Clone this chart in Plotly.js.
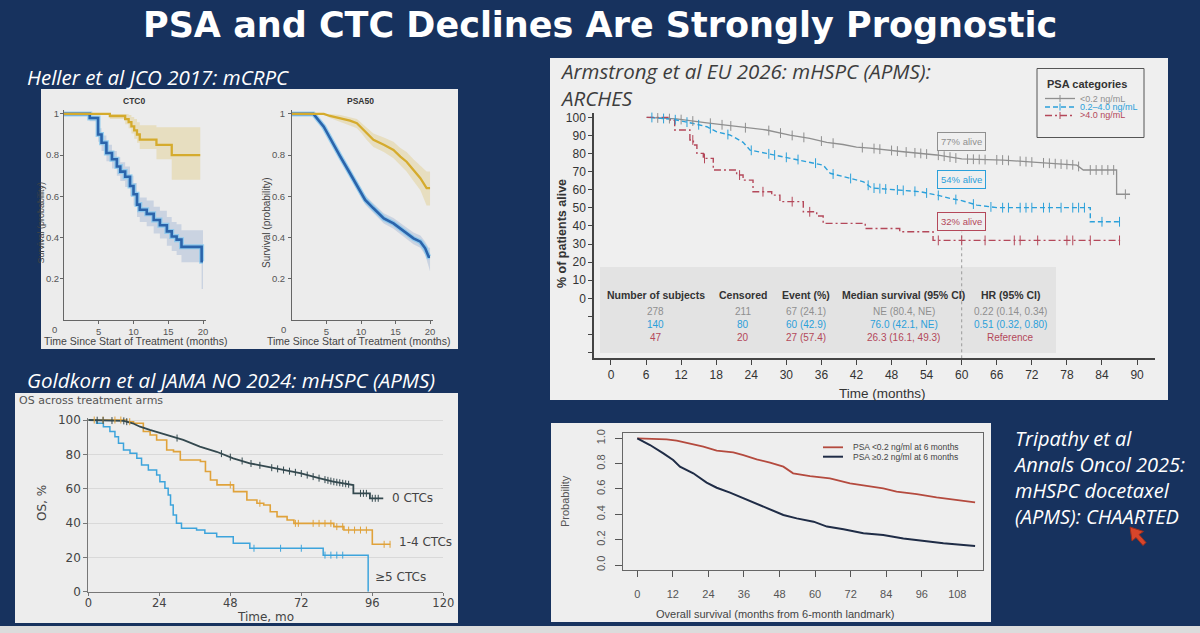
<!DOCTYPE html>
<html>
<head>
<meta charset="utf-8">
<script src="https://cdn.plot.ly/plotly-3.0.1.min.js"></script>
<style>
  html, body { margin: 0; padding: 0; background: #17325e; overflow: hidden; }
  #chart { width: 1200px; height: 633px; }
</style>
</head>
<body>
<div id="chart"></div>
<script>
// ---------------- Heller et al JCO 2017 (mCRPC) ----------------
// CTC0 panel: months since start of treatment vs survival probability
const ctc0FavT  = [0, 6.6, 8.8, 9.3, 9.7, 10.1, 10.5, 10.9, 13.3, 15.5, 19.6];
const ctc0FavS  = [1.0, 0.99, 0.975, 0.96, 0.94, 0.92, 0.90, 0.875, 0.85, 0.80, 0.80];
const ctc0FavHi = [1.0, 1.0, 1.0, 0.995, 0.985, 0.975, 0.96, 0.945, 0.935, 0.935, 0.935];
const ctc0FavLo = [1.0, 0.975, 0.95, 0.93, 0.905, 0.88, 0.86, 0.83, 0.78, 0.68, 0.68];

const ctc0PosT  = [0, 3.3, 3.7, 4.9, 5.4, 6.1, 6.9, 7.6, 8.1, 8.8, 9.5, 10.0, 10.5, 10.9, 11.9, 12.9, 13.8, 14.8, 15.5, 16.2, 16.9, 19.8, 20.0];
const ctc0PosS  = [1, 1, 0.98, 0.90, 0.86, 0.81, 0.78, 0.745, 0.72, 0.695, 0.65, 0.61, 0.56, 0.535, 0.515, 0.485, 0.46, 0.43, 0.405, 0.39, 0.355, 0.285, 0.285];
const ctc0PosHi = [1, 1, 0.99, 0.93, 0.895, 0.85, 0.82, 0.79, 0.765, 0.745, 0.70, 0.665, 0.615, 0.595, 0.58, 0.55, 0.53, 0.50, 0.475, 0.465, 0.435, 0.435, 0.43];
const ctc0PosLo = [1, 1, 0.965, 0.865, 0.82, 0.77, 0.735, 0.70, 0.675, 0.645, 0.60, 0.555, 0.50, 0.475, 0.455, 0.42, 0.395, 0.36, 0.335, 0.315, 0.28, 0.15, 0.15];

// PSA50 panel
const psa50FavT  = [0, 4.6, 5.5, 7.0, 8.4, 9.4, 10.1, 10.8, 11.8, 13.3, 14.7, 15.7, 16.6, 17.6, 18.6, 19.5, 20.0];
const psa50FavS  = [1, 1, 0.99, 0.98, 0.967, 0.955, 0.93, 0.906, 0.874, 0.85, 0.825, 0.793, 0.768, 0.728, 0.688, 0.64, 0.64];
const psa50FavHi = [1, 1, 1, 0.995, 0.985, 0.975, 0.955, 0.935, 0.905, 0.885, 0.865, 0.835, 0.815, 0.78, 0.75, 0.72, 0.72];
const psa50FavLo = [1, 1, 0.98, 0.96, 0.945, 0.93, 0.905, 0.875, 0.84, 0.815, 0.785, 0.75, 0.72, 0.675, 0.63, 0.555, 0.555];

const psa50PosT  = [0, 3.1, 4.6, 6.0, 7.0, 8.4, 9.4, 10.6, 11.8, 13.3, 14.7, 15.7, 16.6, 17.6, 18.6, 19.3, 19.8, 20.0];
const psa50PosS  = [1, 1, 0.938, 0.85, 0.793, 0.712, 0.655, 0.583, 0.542, 0.493, 0.469, 0.445, 0.42, 0.396, 0.38, 0.348, 0.307, 0.307];
const psa50PosHi = [1, 1, 0.95, 0.865, 0.81, 0.73, 0.675, 0.605, 0.565, 0.518, 0.495, 0.472, 0.448, 0.425, 0.41, 0.38, 0.35, 0.35];
const psa50PosLo = [1, 1, 0.925, 0.835, 0.776, 0.694, 0.635, 0.561, 0.519, 0.468, 0.443, 0.418, 0.392, 0.367, 0.35, 0.315, 0.26, 0.235];

const hellerTicks = [5, 10, 15, 20];
const hellerProbTicks = [0.2, 0.4, 0.6, 0.8, 1];
const hellerProbLabels = ['0.2', '0.4', '0.6', '0.8', '1'];

// ---------------- Goldkorn et al JAMA NO 2024 (OS by CTC count) ----------------
const zeroCtcT = [0, 12, 15, 17.5, 20.8, 26.5, 32.1, 37.7, 43.4, 49, 54.6, 60.3, 65.9, 71.6, 78.3, 82.8, 89.6, 89.6, 95.2, 95.2, 99.7];
const zeroCtcS = [100, 99.5, 98.1, 96.1, 94.2, 91.3, 88.4, 84.5, 81.5, 77.7, 74.8, 72.8, 70.9, 69, 66, 64.1, 62.1, 57.3, 57.3, 54.4, 54.4];
const zeroCtcCens = [3, 5, 8, 12, 13, 30, 45, 48, 52, 55, 58, 62, 64, 66, 68, 70, 72, 74, 76, 78, 80, 81, 82, 83, 84, 85, 86, 87, 88, 92, 93, 94, 96, 97, 98];

const lowCtcT = [0, 13, 15.3, 18.6, 20.9, 23.1, 26.5, 28.8, 31.1, 37.9, 39.6, 41.3, 43.5, 49.1, 53.6, 57, 59.3, 61.5, 63.8, 67.2, 69.5, 83, 86.4, 96, 102.1];
const lowCtcS = [100, 99, 98.1, 93.3, 91.3, 88.4, 82.5, 81.6, 76.7, 75.8, 70, 65.1, 62.2, 58.3, 53.4, 51.5, 50.5, 46.6, 43.7, 41.8, 39.8, 37.9, 35.9, 27.6, 27.6];
const lowCtcCens = [2, 5, 9, 11, 14, 48, 58, 70, 71, 76, 78, 80, 82, 84, 86, 88, 90, 92, 94, 100, 102];

const highCtcT = [0, 2.8, 5.1, 7.3, 9, 10.2, 11.9, 14.1, 16.4, 18, 20.3, 23.1, 24.2, 25.9, 27, 27.8, 28.7, 29.8, 31.5, 36.6, 39.4, 43.4, 49, 54.6, 79.4, 94.6];
const highCtcS = [100, 98.1, 96.1, 93.3, 90.3, 86.4, 82.5, 80.6, 77.7, 73.8, 70.9, 68, 64.1, 60.2, 56.3, 50.5, 44.7, 39.8, 36.9, 35.9, 34, 32, 28.2, 25.3, 21.3, 0];
const highCtcCens = [56, 65, 72, 80, 82, 84, 86];

const osTicks = [0, 24, 48, 72, 96, 120];
const osPctTicks = [0, 20, 40, 60, 80, 100];
const ctcGroupLabels = ['0 CTCs', '1-4 CTCs', '≥5 CTCs'];

// ---------------- Armstrong et al: ARCHES, PSA categories ----------------
const psaLowT = [6.1, 11.2, 16.4, 21.5, 26.6, 30.6, 34, 36.9, 39.7, 42, 44.3, 50, 55.7, 60, 67.1, 72.8, 79.7, 80.8, 86.5, 86.5, 88.8];
const psaLowS = [100, 99.1, 97, 94.8, 93, 90.2, 88.4, 86.2, 85, 83.5, 83, 81, 79.2, 77, 76.4, 75.1, 73.6, 70.9, 70.9, 57.5, 57.5];
const psaLowCens = [8, 10, 12, 14, 17, 19, 20.5, 23, 27, 29, 31, 33, 36, 38, 43, 45, 46, 48, 49, 50.5, 52, 53, 54, 56, 57, 58, 59, 61, 62, 63, 64, 66, 67, 68, 70, 71, 72, 74, 75, 76, 77, 78, 79, 80, 82, 83, 84, 85, 86, 88];

const psaMidT = [6.7, 10.7, 14.1, 16.4, 18.1, 20.4, 22.6, 23.8, 26.6, 29.5, 34, 36.3, 37.5, 40.9, 43.2, 44.6, 52.9, 55.7, 58, 60, 62.6, 66, 82, 82, 87.1];
const psaMidS = [100, 98.9, 96.6, 94.8, 92, 90.2, 86.2, 81.9, 80.1, 78.2, 75.5, 73.6, 69.1, 66.3, 64.4, 61, 58.9, 57.1, 55.2, 54, 51.5, 50.1, 50.1, 42.3, 42.3];
const psaMidCens = [7, 9, 11, 13, 15, 17, 20, 24, 27, 28, 30, 32, 35, 38, 41, 44, 45, 46, 47, 49, 50, 52, 54, 56, 59, 62, 65, 67, 68, 70, 71, 72, 74, 75, 77, 79, 80, 81, 84, 87];

const psaHighT = [6.1, 10.1, 10.9, 13.5, 14.1, 14.7, 15.8, 17.5, 21.5, 22.6, 24.3, 27.5, 28.9, 32.9, 35.2, 36.3, 43.5, 49.4, 55.1, 87.1];
const psaHighS = [100, 98.3, 93, 87.5, 84.7, 80.1, 77.3, 70.9, 68.1, 65.3, 58.9, 57, 53.4, 47.8, 45.5, 41.4, 38.6, 36.8, 32, 32];
const psaHighCens = [14, 16, 22, 26, 31, 34, 56, 60, 64, 69, 70, 73, 78, 79, 82, 87];

const psaCategoryNames = ['<0.2 ng/mL', '0.2–4.0 ng/mL', '>4.0 ng/mL'];
const aliveAt60 = [77, 54, 32];
const archesMonthTicks = [0, 6, 12, 18, 24, 30, 36, 42, 48, 54, 60, 66, 72, 78, 84, 90];
const archesPctTicks = [-30, -20, -10, 0, 10, 20, 30, 40, 50, 60, 70, 80, 90, 100];

const tableHeaders = ['Number of subjects', 'Censored', 'Event (%)', 'Median survival (95% CI)', 'HR (95% CI)'];
const tableRows = [
  ['278', '211', '67 (24.1)', 'NE (80.4, NE)', '0.22 (0.14, 0.34)'],
  ['140', '80', '60 (42.9)', '76.0 (42.1, NE)', '0.51 (0.32, 0.80)'],
  ['47', '20', '27 (57.4)', '26.3 (16.1, 49.3)', 'Reference']
];

// ---------------- Tripathy et al: CHAARTED, 6-month PSA landmark ----------------
const chLowT = [0, 9.9, 13.3, 17.8, 22.3, 26.8, 32.4, 35.8, 40.3, 44.8, 49.3, 52.6, 58.3, 65, 71.8, 77.4, 83, 87.5, 94.3, 101, 107.8, 114];
const chLowS = [1.0, 0.992, 0.981, 0.96, 0.934, 0.902, 0.889, 0.868, 0.834, 0.808, 0.776, 0.724, 0.702, 0.684, 0.645, 0.624, 0.605, 0.579, 0.56, 0.534, 0.513, 0.495];
const chHighT = [0, 4.3, 8.8, 12.1, 14.4, 18.9, 23.4, 26.8, 31.3, 35.8, 40.3, 44.8, 49.3, 53.8, 59.5, 64, 69.6, 76.3, 83, 89.8, 96.5, 103.3, 114];
const chHighS = [1.0, 0.947, 0.881, 0.829, 0.776, 0.724, 0.65, 0.61, 0.571, 0.526, 0.487, 0.439, 0.395, 0.368, 0.342, 0.303, 0.282, 0.25, 0.237, 0.21, 0.192, 0.171, 0.15];
const chNames = ['PSA <0.2 ng/ml at 6 months', 'PSA ≥0.2 ng/ml at 6 months'];
const chMonthTicks = [0, 12, 24, 36, 48, 60, 72, 84, 96, 108];
const chProbTicks = [0, 0.2, 0.4, 0.6, 0.8, 1.0];

// ---------------- helpers ----------------
const W = 1200, H = 633;
const px = x => x / W;
const py = y => 1 - y / H;

const SANS = 'Liberation Sans, Arial, sans-serif';
const NARROW = 'Liberation Sans Narrow, Liberation Sans, Arial, sans-serif';
const DEJAVU = 'DejaVu Sans, Verdana, sans-serif';
const OPEN = 'Open Sans, Noto Sans, sans-serif';

const NAVY = '#17325e';
const GRAY_C = '#8f8f8f', BLUE_C = '#2ba0da', RED_C = '#b4485a';

function stepAt(T, S, t) { let v = S[0]; for (let i = 0; i < T.length; i++) if (T[i] <= t) v = S[i]; return v; }
function linAt(T, S, t) {
  for (let i = 1; i < T.length; i++) {
    if (t <= T[i]) { const a = T[i - 1], b = T[i]; if (b === a) return S[i]; return S[i - 1] + (S[i] - S[i - 1]) * (t - a) / (b - a); }
  }
  return S[S.length - 1];
}

const traces = [];
function band(T, lo, hi, shape, color, xa, ya) {
  traces.push({ x: T, y: lo, xaxis: xa, yaxis: ya, mode: 'lines', line: { width: 0, shape }, hoverinfo: 'skip', showlegend: false });
  traces.push({ x: T, y: hi, xaxis: xa, yaxis: ya, mode: 'lines', line: { width: 0, shape }, fill: 'tonexty', fillcolor: color, hoverinfo: 'skip', showlegend: false });
}
function curve(T, S, shape, color, width, xa, ya, dash) {
  traces.push({ x: T, y: S, xaxis: xa, yaxis: ya, mode: 'lines', line: { color, width, shape, dash: dash || 'solid' }, hoverinfo: 'skip', showlegend: false });
}
function censor(times, T, S, lookup, color, size, xa, ya) {
  traces.push({ x: times, y: times.map(t => lookup(T, S, t)), xaxis: xa, yaxis: ya, mode: 'markers',
    marker: { symbol: 'line-ns', size, color, line: { color, width: 1 } }, hoverinfo: 'skip', showlegend: false, cliponaxis: false });
}

// Heller CTC0 (x / y)
band(ctc0FavT, ctc0FavLo, ctc0FavHi, 'hv', 'rgba(224,200,120,0.38)', 'x', 'y');
band(ctc0PosT, ctc0PosLo, ctc0PosHi, 'hv', 'rgba(140,165,205,0.35)', 'x', 'y');
curve(ctc0PosT, ctc0PosS, 'hv', 'rgba(120,195,240,0.7)', 5, 'x', 'y');
curve(ctc0PosT, ctc0PosS, 'hv', '#2b64ab', 2.6, 'x', 'y');
curve(ctc0FavT, ctc0FavS, 'hv', '#d5ab2d', 2.3, 'x', 'y');

// Heller PSA50 (x2 / y2)
band(psa50FavT, psa50FavLo, psa50FavHi, 'linear', 'rgba(224,200,120,0.38)', 'x2', 'y2');
band(psa50PosT, psa50PosLo, psa50PosHi, 'linear', 'rgba(140,165,205,0.35)', 'x2', 'y2');
curve(psa50PosT, psa50PosS, 'linear', 'rgba(120,195,240,0.7)', 5, 'x2', 'y2');
curve(psa50PosT, psa50PosS, 'linear', '#2b64ab', 2.6, 'x2', 'y2');
curve(psa50FavT, psa50FavS, 'linear', '#d5ab2d', 2.3, 'x2', 'y2');

// Goldkorn (x3 / y3)
curve(highCtcT, highCtcS, 'hv', '#3da4dc', 1.5, 'x3', 'y3');
curve(lowCtcT, lowCtcS, 'hv', '#e0a23a', 1.6, 'x3', 'y3');
curve(zeroCtcT, zeroCtcS, 'linear', '#34494f', 1.8, 'x3', 'y3');
censor(highCtcCens, highCtcT, highCtcS, stepAt, '#3da4dc', 5, 'x3', 'y3');
censor(lowCtcCens, lowCtcT, lowCtcS, stepAt, '#e0a23a', 5, 'x3', 'y3');
censor(zeroCtcCens, zeroCtcT, zeroCtcS, linAt, '#34494f', 5, 'x3', 'y3');

// Armstrong / ARCHES (x4 / y4)
curve(psaLowT, psaLowS, 'linear', GRAY_C, 1.3, 'x4', 'y4');
curve(psaMidT, psaMidS, 'linear', BLUE_C, 1.4, 'x4', 'y4', '5px,3px');
curve(psaHighT, psaHighS, 'hv', RED_C, 1.4, 'x4', 'y4', '7px,3px,2px,3px');
censor(psaLowCens, psaLowT, psaLowS, linAt, GRAY_C, 7, 'x4', 'y4');
censor(psaMidCens, psaMidT, psaMidS, linAt, BLUE_C, 7, 'x4', 'y4');
censor(psaHighCens, psaHighT, psaHighS, stepAt, RED_C, 7, 'x4', 'y4');

// Tripathy / CHAARTED (x5 / y5)
curve(chLowT, chLowS, 'linear', '#b44a3e', 1.8, 'x5', 'y5');
curve(chHighT, chHighS, 'linear', '#1f2c46', 2.0, 'x5', 'y5');

// ---------------- axes ----------------
function baseAxis(o) {
  return Object.assign({ showgrid: false, zeroline: false, showline: true, ticks: 'outside', fixedrange: true, automargin: false }, o);
}
const hellerTickFont = { family: SANS, size: 9.5, color: '#555' };
const layout = {
  width: W, height: H,
  margin: { l: 0, r: 0, t: 0, b: 0 },
  paper_bgcolor: NAVY, plot_bgcolor: 'rgba(0,0,0,0)',
  showlegend: false,
  xaxis: baseAxis({ domain: [px(64), px(205.8)], range: [0, 20.4], anchor: 'y', tickvals: hellerTicks, tickfont: hellerTickFont, ticklen: 3, tickcolor: '#666', linecolor: '#666', linewidth: 1 }),
  yaxis: baseAxis({ domain: [py(320), py(110)], range: [0, 1.019], anchor: 'x', tickvals: hellerProbTicks, ticktext: hellerProbLabels, tickfont: hellerTickFont, ticklen: 3, tickcolor: '#666', linecolor: '#666', linewidth: 1, ticklabelstandoff: -1 }),
  xaxis2: baseAxis({ domain: [px(292), px(432.8)], range: [0, 20.4], anchor: 'y2', tickvals: hellerTicks, tickfont: hellerTickFont, ticklen: 3, tickcolor: '#666', linecolor: '#666', linewidth: 1 }),
  yaxis2: baseAxis({ domain: [py(320), py(110)], range: [0, 1.019], anchor: 'x2', tickvals: hellerProbTicks, ticktext: hellerProbLabels, tickfont: hellerTickFont, ticklen: 3, tickcolor: '#666', linecolor: '#666', linewidth: 1, ticklabelstandoff: 1 }),
  xaxis3: baseAxis({ domain: [px(88.3), px(443.3)], range: [0, 120], anchor: 'y3', tickvals: osTicks, tickfont: { family: DEJAVU, size: 11.5, color: '#444' }, ticklen: 3, tickcolor: '#777', linecolor: '#777', linewidth: 1, ticklabelstandoff: -3 }),
  yaxis3: baseAxis({ domain: [py(591.7), py(418.3)], range: [0, 101], anchor: 'x3', tickvals: osPctTicks, tickfont: { family: DEJAVU, size: 12, color: '#444' }, ticklen: 4, tickcolor: '#777', linecolor: '#777', linewidth: 1, showgrid: true, gridcolor: '#d9d9d9', gridwidth: 1 }),
  xaxis4: baseAxis({ domain: [px(593.5), px(1155)], range: [-2.99, 93.07], anchor: 'y4', tickvals: archesMonthTicks, tickfont: { family: NARROW, size: 12, color: '#333' }, ticklen: 5, tickcolor: '#444', linecolor: '#444', linewidth: 1.2 }),
  yaxis4: baseAxis({ domain: [py(358.3), py(113)], range: [-33.15, 102.4], anchor: 'x4', tickvals: archesPctTicks,
    ticktext: archesPctTicks.map(v => v >= 0 ? String(v) : ''), tickfont: { family: NARROW, size: 12, color: '#333' }, ticklen: 4, tickcolor: '#444', linecolor: '#444', linewidth: 1.2 }),
  xaxis5: baseAxis({ domain: [px(623.3), px(983.3)], range: [-4.72, 116.77], anchor: 'y5', mirror: true, tickvals: chMonthTicks, tickfont: { family: SANS, size: 11, color: '#555' }, ticklen: 6, tickcolor: '#555', linecolor: '#666', linewidth: 1, ticklabelstandoff: 8 }),
  yaxis5: baseAxis({ domain: [py(570), py(433.3)], range: [-0.0395, 1.0395], anchor: 'x5', mirror: true, tickvals: chProbTicks,
    ticktext: chProbTicks.map(v => v.toFixed(1)), tickangle: -90, tickfont: { family: SANS, size: 11, color: '#555' }, ticklen: 7, tickcolor: '#555', linecolor: '#666', linewidth: 1, ticklabelstandoff: 6 }),
  shapes: [],
  annotations: []
};

// ---------------- panels, legends and decorations ----------------
function rect(x0, y0, x1, y1, fill, line, layer) {
  layout.shapes.push({ type: 'rect', xref: 'paper', yref: 'paper', x0: px(x0), x1: px(x1), y0: py(y1), y1: py(y0),
    fillcolor: fill, line: line || { width: 0 }, layer: layer || 'below' });
}
function seg(x0, y0, x1, y1, color, width, dash) {
  layout.shapes.push({ type: 'line', xref: 'paper', yref: 'paper', x0: px(x0), x1: px(x1), y0: py(y0), y1: py(y1),
    line: { color, width, dash: dash || 'solid' }, layer: 'above' });
}
function text(x, y, t, font, opts) {
  layout.annotations.push(Object.assign({ xref: 'paper', yref: 'paper', x: px(x), y: py(y), text: t, showarrow: false,
    xanchor: 'center', yanchor: 'middle', font }, opts || {}));
}

rect(0, 626, 1200, 633, '#dcdcdc');
rect(41, 89, 458, 349, '#ececec');          // Heller
rect(15, 393, 458, 623, '#ededed');         // Goldkorn
rect(550, 58, 1168, 400, '#efefef');        // Armstrong
rect(551, 423, 991, 622, '#eeeeee');        // Tripathy
rect(600, 267, 1056, 353, '#e3e3e3');       // ARCHES risk table

// slide title and panel captions
text(600, 25, '<b>PSA and CTC Declines Are Strongly Prognostic</b>', { family: DEJAVU, size: 35, color: '#ffffff' }, { borderpad: 0 });
text(25, 77, '<i>Heller et al JCO 2017: mCRPC</i>', { family: OPEN, size: 20.5, color: '#ffffff' }, { xanchor: 'left' });
text(25, 380, '<i>Goldkorn et al JAMA NO 2024: mHSPC (APMS)</i>', { family: OPEN, size: 20.5, color: '#ffffff' }, { xanchor: 'left' });
text(558, 84, '<i>Armstrong et al EU 2026: mHSPC (APMS):<br>ARCHES</i>', { family: OPEN, size: 20.5, color: '#3d3d3d' }, { xanchor: 'left', align: 'left' });
text(1011, 478, '<i>Tripathy et al<br>Annals Oncol 2025:<br>mHSPC docetaxel<br>(APMS): CHAARTED</i>', { family: OPEN, size: 20, color: '#ffffff' }, { xanchor: 'left', align: 'left' });

// Heller labels
const hSmall = { family: SANS, size: 10.5, color: '#444' };
text(134, 101, '<b>CTC0</b>', { family: SANS, size: 8.5, color: '#333' });
text(360, 101, '<b>PSA50</b>', { family: SANS, size: 8.5, color: '#333' });
text(40.5, 223, 'Survival (probability)', { family: SANS, size: 9, color: '#444' }, { textangle: -90 });
text(266, 223, 'Survival (probability)', { family: SANS, size: 10, color: '#444' }, { textangle: -90 });
text(135, 341, 'Time Since Start of Treatment (months)', hSmall);
text(358, 341, 'Time Since Start of Treatment (months)', hSmall);
text(55, 329, '0', hellerTickFont);
text(283, 329, '0', hellerTickFont);

// Goldkorn labels
const gFont = { family: DEJAVU, size: 12, color: '#444' };
text(17, 400, 'OS across treatment arms', { family: DEJAVU, size: 11, color: '#555' }, { xanchor: 'left' });
text(42, 503, 'OS, %', gFont, { textangle: -90 });
text(265.8, 617, 'Time, mo', gFont);
text(390, 498, ctcGroupLabels[0], gFont, { xanchor: 'left' });
text(397, 542, ctcGroupLabels[1], gFont, { xanchor: 'left' });
text(373, 577, ctcGroupLabels[2], gFont, { xanchor: 'left' });

// ARCHES axis titles
text(562, 234, '<b>% of patients alive</b>', { family: SANS, size: 12.5, color: '#333' }, { textangle: -90 });
text(882, 393, 'Time (months)', { family: NARROW, size: 13.5, color: '#333' });

// ARCHES risk table
const colX = [655.8, 743, 806, 903.5, 1010.5];
const rowY = [311.7, 324.3, 337.7];
const rowColors = [GRAY_C, BLUE_C, RED_C];
tableHeaders.forEach((h, j) => text(colX[j], 295, '<b>' + h + '</b>', { family: NARROW, size: 10.5, color: '#333' }));
tableRows.forEach((row, i) => row.forEach((v, j) => text(colX[j], rowY[i], v, { family: NARROW, size: 10, color: rowColors[i] })));

// 60-month reference line and survival boxes
layout.shapes.push({ type: 'line', xref: 'x4', yref: 'y4', x0: 60, x1: 60, y0: -33.15, y1: 36.8, line: { color: '#9a9a9a', width: 1, dash: '3px,3px' }, layer: 'below' });
const boxY = [86.7, 65.9, 42.3];
aliveAt60.forEach((v, i) => {
  layout.annotations.push({ xref: 'x4', yref: 'y4', x: 60, y: boxY[i], text: v + '% alive', showarrow: false,
    font: { family: NARROW, size: 9.5, color: rowColors[i] }, bgcolor: '#efefef', bordercolor: rowColors[i], borderwidth: 1, borderpad: 3,
    xanchor: 'center', yanchor: 'middle' });
});

// ARCHES legend
rect(1037, 68.5, 1144, 137.5, 'rgba(0,0,0,0)', { color: '#555', width: 1 }, 'above');
text(1045, 84, '<b>PSA categories</b>', { family: NARROW, size: 11, color: '#333' }, { xanchor: 'left' });
const legY = [98.5, 107, 115.5];
const legDash = ['solid', '5px,3px', '7px,3px,2px,3px'];
legY.forEach((y, i) => {
  seg(1045, y, 1075, y, rowColors[i], 1.3, legDash[i]);
  seg(1060, y - 3.5, 1060, y + 3.5, rowColors[i], 1);
  text(1078, y, psaCategoryNames[i], { family: NARROW, size: 9, color: rowColors[i] }, { xanchor: 'left' });
});

// CHAARTED legend and titles
seg(823, 447.3, 843, 447.3, '#b44a3e', 1.8);
seg(823, 456.7, 843, 456.7, '#1f2c46', 2);
text(851, 447.3, chNames[0], { family: SANS, size: 8.5, color: '#444' }, { xanchor: 'left' });
text(851, 456.7, chNames[1], { family: SANS, size: 8.5, color: '#444' }, { xanchor: 'left' });
text(565, 501, 'Probability', { family: SANS, size: 11, color: '#555' }, { textangle: -90 });
text(775, 614, 'Overall survival (months from 6-month landmark)', { family: SANS, size: 11, color: '#444' });

// mouse pointer
const ptr = [[1130, 527], [1132, 541], [1136, 537.5], [1143, 545.5], [1146, 542.5], [1139, 534.5], [1143.5, 531.5]];
layout.shapes.push({ type: 'path', xref: 'paper', yref: 'paper', layer: 'above',
  path: 'M' + ptr.map(p => px(p[0]) + ',' + py(p[1])).join(' L') + ' Z', fillcolor: '#d8452a', line: { color: '#9c2f1c', width: 1 } });

Plotly.newPlot('chart', traces, layout, { displayModeBar: false, staticPlot: true });
</script>
</body>
</html>
